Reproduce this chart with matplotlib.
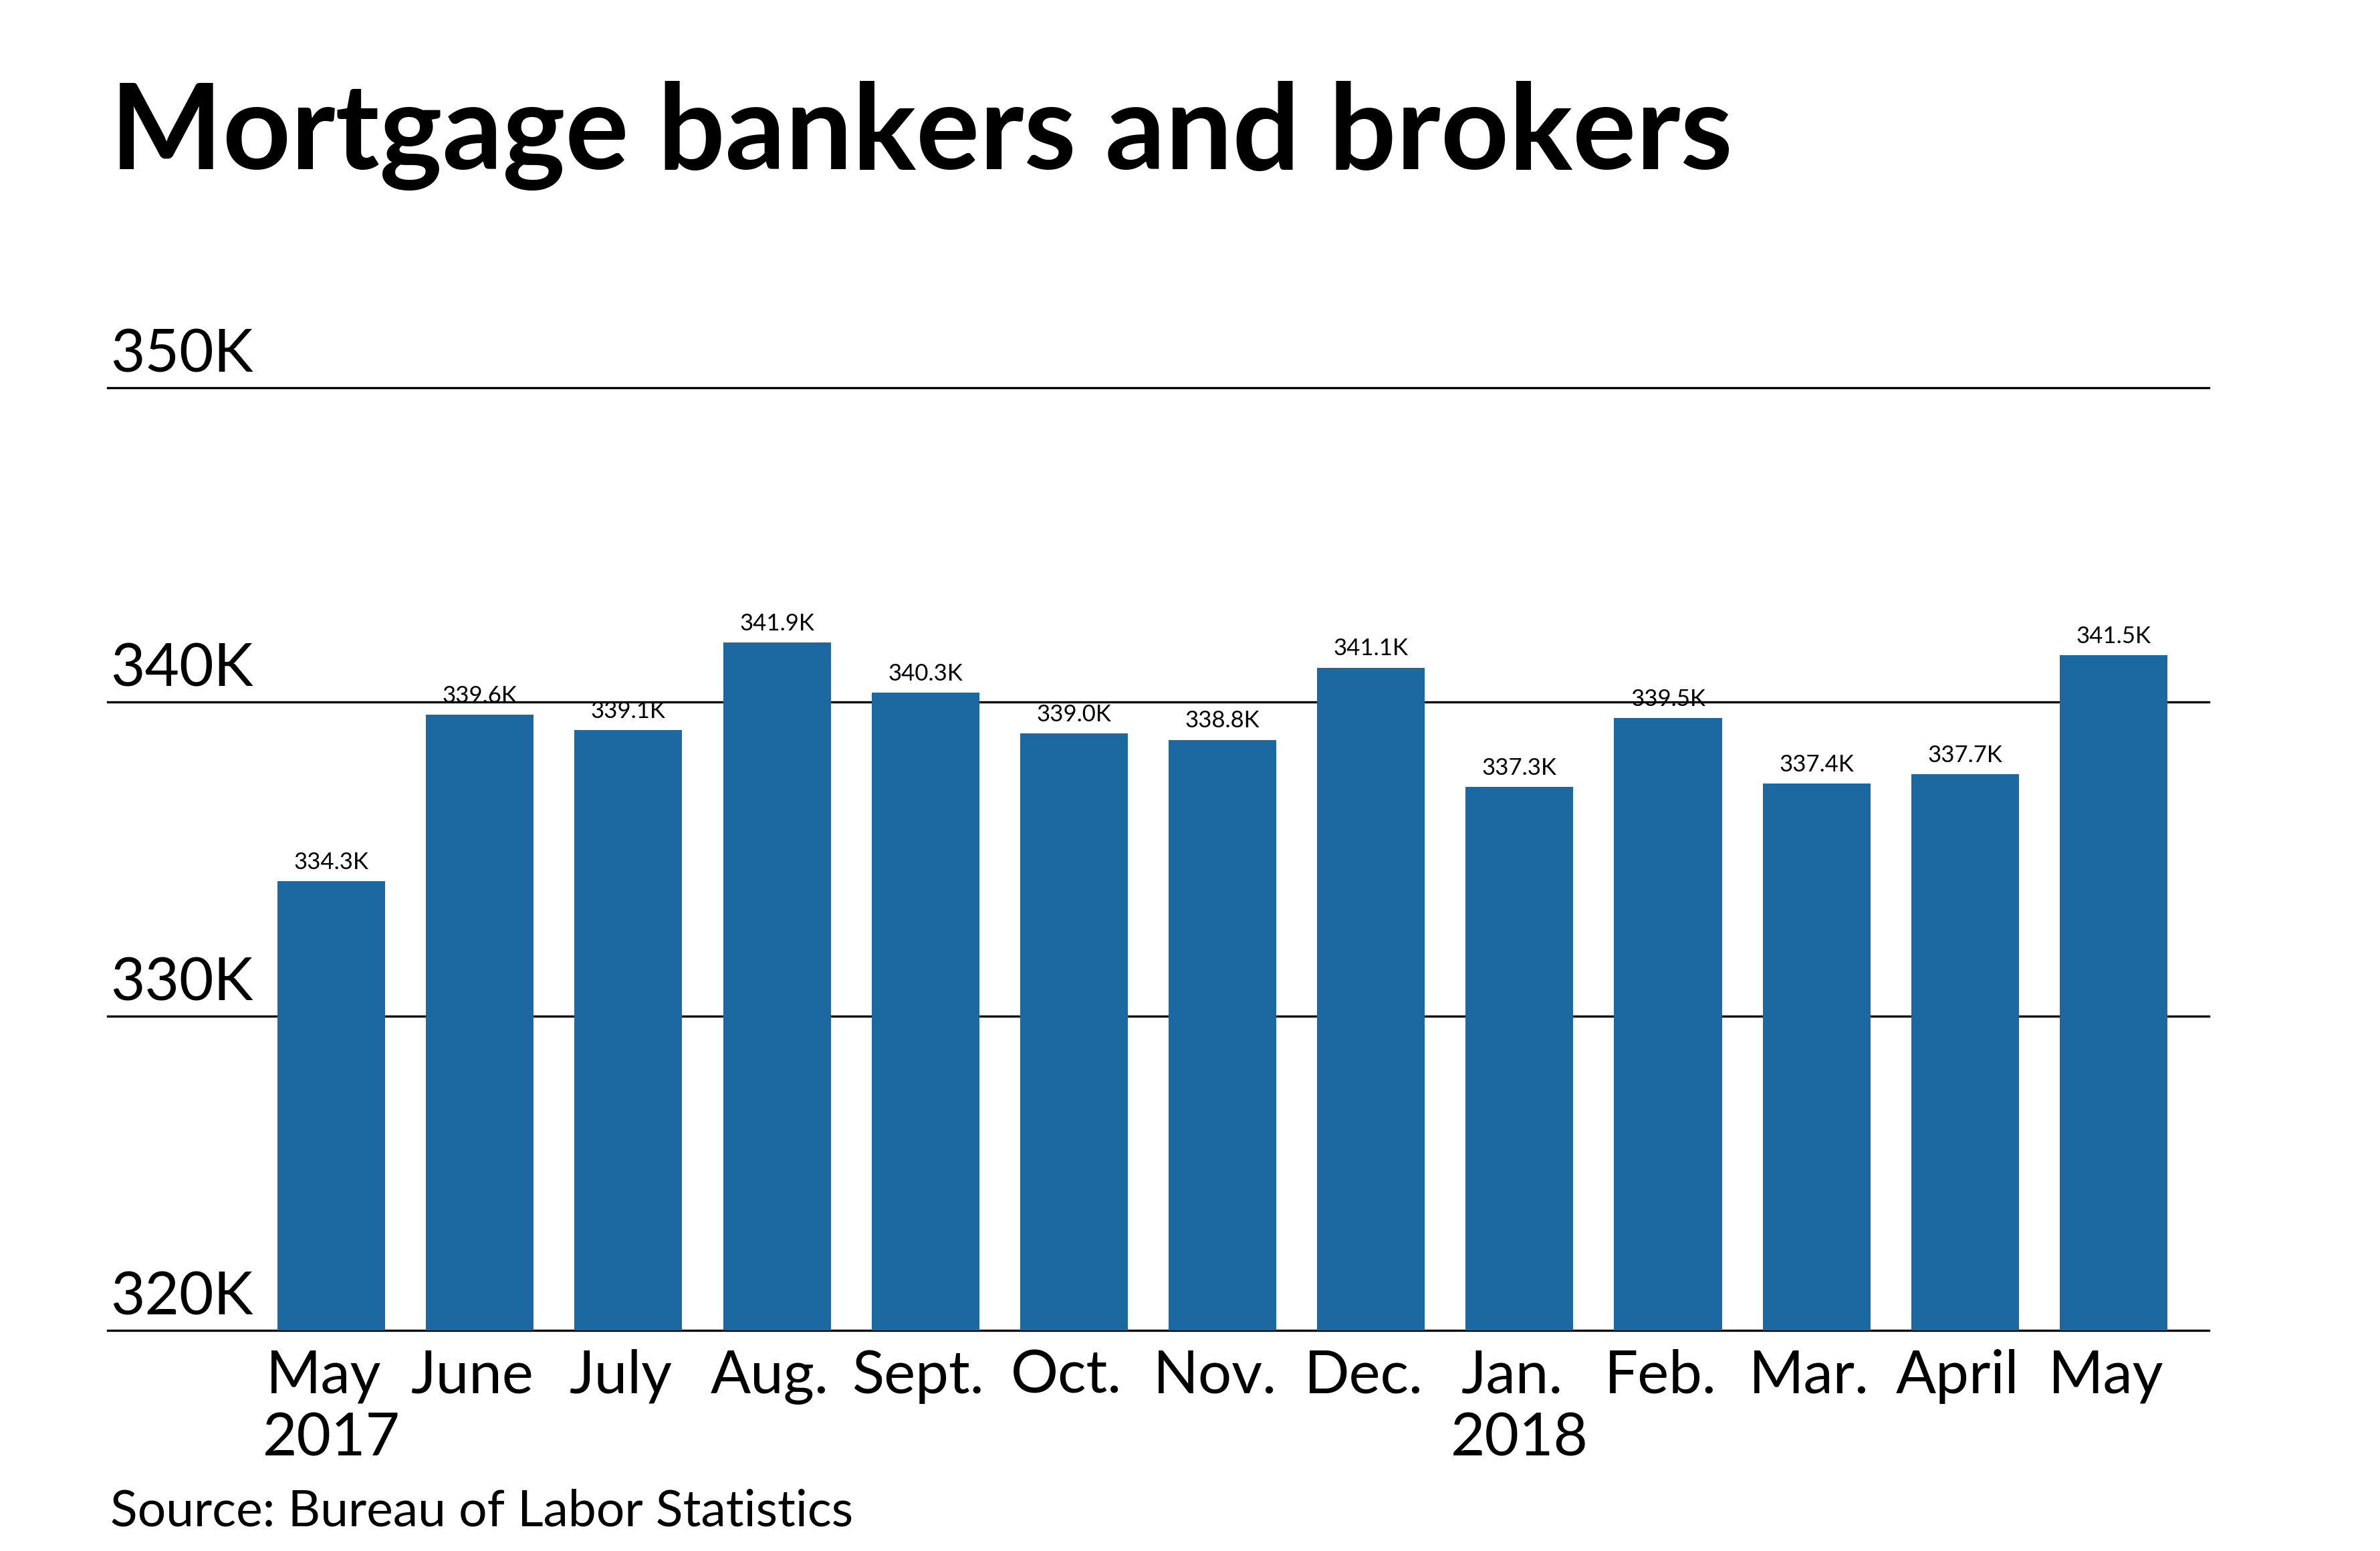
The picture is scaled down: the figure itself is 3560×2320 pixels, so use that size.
import matplotlib
matplotlib.use("Agg")
import matplotlib.pyplot as plt
import matplotlib.transforms as mtransforms

# data
months = ["May", "June", "July", "Aug.", "Sept.", "Oct.", "Nov.",
          "Dec.", "Jan.", "Feb.", "Mar.", "April", "May"]
years = ["2017", "", "", "", "", "", "", "", "2018", "", "", "", ""]
values = [334.3, 339.6, 339.1, 341.9, 340.3, 339.0, 338.8,
          341.1, 337.3, 339.5, 337.4, 337.7, 341.5]
value_labels = ["334.3K", "339.6K", "339.1K", "341.9K", "340.3K", "339.0K", "338.8K",
                "341.1K", "337.3K", "339.5K", "337.4K", "337.7K", "341.5K"]
yticks = [320, 330, 340, 350]
ytick_labels = ["320K", "330K", "340K", "350K"]

title = "Mortgage bankers and brokers"
source = "Source: Bureau of Labor Statistics"

bar_color = "#1b69a0"
plt.rcParams['font.family'] = ['Lato', 'DejaVu Sans']

fig = plt.figure(figsize=(17.8, 11.6), dpi=200)
ax = fig.add_axes([0.0451, 0.1424, 0.928 - 0.0451, 0.7498 - 0.1424])

x = list(range(len(values)))
base = yticks[0]
ax.bar(x, [v - base for v in values], bottom=base, width=0.725,
       color=bar_color, zorder=2)

ax.set_ylim(yticks[0], yticks[-1])
ax.set_xlim(-1.508, 12.64)

# gridlines
for t in yticks:
    ax.axhline(t, color="black", lw=1.2, zorder=1, clip_on=False)

ax.set_xticks([])
ax.set_yticks([])
for s in ax.spines.values():
    s.set_visible(False)

# y labels above gridlines
trans = mtransforms.blended_transform_factory(fig.transFigure, ax.transData)
for t, lab in zip(yticks, ytick_labels):
    ax.text(0.0464, t + 0.5, lab, transform=trans, ha="left", va="baseline",
            fontsize=32, color="black")

# value labels
for xi, v, lab in zip(x, values, value_labels):
    ax.annotate(lab, (xi, v), xytext=(0, 6.5), textcoords="offset points",
                ha="center", va="baseline", fontsize=12.5, color="black")

# month labels, year on second line
for xi, m, yr in zip(x, months, years):
    ax.text(xi - 0.05, 318.0, m, ha="center", va="baseline", fontsize=32,
            color="black", clip_on=False)
    if yr:
        ax.text(xi, 316.0, yr, ha="center", va="baseline", fontsize=32,
                color="black", clip_on=False)

fig.text(0.0464, 0.891, title, ha="left", va="baseline", fontsize=64,
         fontweight="bold", color="black")
fig.text(0.0464, 0.016, source, ha="left", va="baseline", fontsize=27,
         color="black")

fig.savefig("out.png", dpi=200, facecolor="white")
